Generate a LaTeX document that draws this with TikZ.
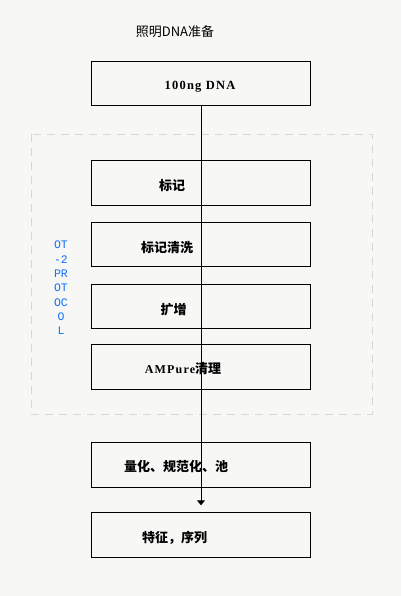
\documentclass[tikz,border=0pt]{standalone}
\usepackage{fontspec}
\usetikzlibrary{arrows.meta}
\newfontfamily\cjk{Noto Sans CJK SC}
\newfontfamily\monof{Liberation Mono}
\newfontfamily\serb{Liberation Serif}[LetterSpace=10]
\definecolor{bgc}{RGB}{247,247,245}
\definecolor{dashc}{RGB}{215,215,215}
\definecolor{bluet}{RGB}{20,110,250}
\tikzset{
  stepbox/.style={draw=black, line width=0.9pt, minimum width=219pt, minimum height=44.5pt, inner sep=0pt},
  lbl/.style={inner sep=0pt, font=\cjk\bfseries\fontsize{13}{15}\selectfont},
  flow/.style={line width=0.9pt, -{Triangle[width=8pt,length=5pt]}}
}
\begin{document}
\begin{tikzpicture}[x=1pt,y=-1pt]
\fill[bgc] (0,0) rectangle (401,596);
\useasboundingbox (0,0) rectangle (401,596);
\node[inner sep=0pt, font=\cjk\fontsize{13}{15}\selectfont] (title) at (175,32) {照明DNA准备};
\draw[dashc, line width=0.9pt, dash pattern=on 8pt off 6pt] (31,134) rectangle (372,414);
\node[stepbox] (b1) at (200.5,83.5) {};
\node[stepbox] (b2) at (200.5,183) {};
\node[stepbox] (b3) at (200.5,244.5) {};
\node[stepbox] (b4) at (200.5,306.5) {};
\node[stepbox] (b5) at (200.5,367) {};
\node[stepbox] (b6) at (200.5,465) {};
\node[stepbox] (b7) at (200.5,535) {};
\node[inner sep=0pt, font=\serb\bfseries\fontsize{12.5}{14}\selectfont] (t1) at (200,87) {100ng DNA};
\node[lbl] (t2) at (172,186) {标记};
\node[lbl] (t3) at (167,248) {标记清洗};
\node[lbl] (t4) at (173.5,310) {扩增};
\node[lbl] (t5) at (183,369) {{\serb\bfseries\fontsize{12}{14}\selectfont AMPure}清理};
\node[lbl] (t6) at (176,467) {量化、规范化、池};
\node[lbl] (t7) at (174.5,538) {特征，序列};
\node[inner sep=0pt, align=center, text=bluet, font=\monof\fontsize{11.5}{14.3}\selectfont] (ot) at (61,288) {OT\\-2\\PR\\OT\\OC\\O\\L};
\draw[flow, shorten >=7pt] (b1.south -| 201,0) -- (b7.north -| 201,0);
\end{tikzpicture}
\end{document}
